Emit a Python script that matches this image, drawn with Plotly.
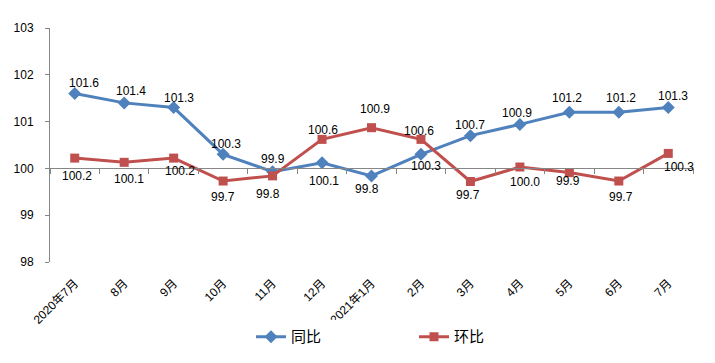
import plotly.graph_objects as go

categories = ["2020年7月", "8月", "9月", "10月", "11月", "12月", "2021年1月",
              "2月", "3月", "4月", "5月", "6月", "7月"]
yoy = [101.6, 101.4, 101.3, 100.3, 99.93, 100.12, 99.84, 100.3, 100.7, 100.94, 101.2, 101.2, 101.3]
mom = [100.22, 100.13, 100.22, 99.73, 99.84, 100.62, 100.87, 100.62, 99.72, 100.03, 99.91, 99.73, 100.32]
yoy_name = "同比"
mom_name = "环比"
y_ticks = [98, 99, 100, 101, 102, 103]

# data-label pixel offsets (layout only)
yoy_dx = [9, 7, 5, 3, 0, 2, -5, 5, 0, -3, -2, 2, 5]
yoy_dy = [11, 12, 10, 10, 13, -18, -13, -12, 11, 11, 14, 14, 12]
mom_dx = [2, 5, 6, 0, -5, 1, 3, -2, -2, 5, -1, 2, 11]
mom_dy = [-18, -17, -13, -16, -18, 9, 19, 8, -13, -15, -8, -16, -14]

BLUE = "#4F81BD"
RED = "#C0504D"
AXIS = "#868686"
num_font = dict(family="Liberation Sans, Arial, sans-serif", size=12, color="#000000")
cjk = "Liberation Sans, Noto Sans CJK SC, sans-serif"

fig = go.Figure()
fig.add_trace(go.Scatter(
    x=categories, y=yoy, name=yoy_name, mode="lines+markers",
    line=dict(color=BLUE, width=3),
    marker=dict(symbol="diamond", size=10, color=BLUE),
    hoverinfo="skip",
))
fig.add_trace(go.Scatter(
    x=categories, y=mom, name=mom_name, mode="lines+markers",
    line=dict(color=RED, width=3),
    marker=dict(symbol="square", size=9, color=RED),
    hoverinfo="skip",
))
# invisible trace to carry the axis line at y=100
fig.add_trace(go.Scatter(
    x=categories, y=[100] * len(categories), xaxis="x2", mode="markers",
    marker=dict(opacity=0), showlegend=False, hoverinfo="skip",
))

annotations = []
for series, dxs, dys in ((yoy, yoy_dx, yoy_dy), (mom, mom_dx, mom_dy)):
    for c, v, dx, dy in zip(categories, series, dxs, dys):
        annotations.append(dict(x=c, y=v, xref="x", yref="y", text=f"{v:.1f}",
                                showarrow=False, xshift=dx, yshift=dy, font=num_font))

fig.update_layout(
    width=715, height=363,
    margin=dict(l=50, r=22, t=28, b=101, autoexpand=False),
    paper_bgcolor="white", plot_bgcolor="white",
    showlegend=True,
    annotations=annotations,
    legend=dict(orientation="h", x=0.3126, xanchor="left", y=-0.32, yanchor="middle",
                entrywidth=118, entrywidthmode="pixels",
                font=dict(family="Noto Sans CJK SC, sans-serif", size=15, color="#000000"),
                itemwidth=30, traceorder="normal"),
    xaxis=dict(type="category", categoryorder="array", categoryarray=categories,
               showline=False, ticks="", showgrid=False, zeroline=False,
               tickangle=-45, ticklabelstandoff=11, automargin=False,
               tickfont=dict(family=cjk, size=12, color="#000000"),
               range=[-0.5, len(categories) - 0.5]),
    xaxis2=dict(type="category", categoryorder="array", categoryarray=categories,
                overlaying="x", anchor="free", position=0.4, automargin=False,
                showline=True, linecolor=AXIS, linewidth=1,
                ticks="outside", tickson="boundaries", ticklen=5, tickcolor=AXIS,
                showticklabels=False, showgrid=False, zeroline=False,
                range=[-0.5, len(categories) - 0.5]),
    yaxis=dict(range=[98, 103], tickvals=y_ticks, showgrid=False, zeroline=False,
               showline=True, linecolor=AXIS, linewidth=1, automargin=False,
               ticks="outside", ticklen=4, tickcolor=AXIS, ticklabelstandoff=9,
               tickfont=dict(family="Liberation Sans, Arial, sans-serif", size=12, color="#000000")),
)

fig.write_html("out.html", config={"displayModeBar": False},
               post_script="document.body.style.margin='0';")
